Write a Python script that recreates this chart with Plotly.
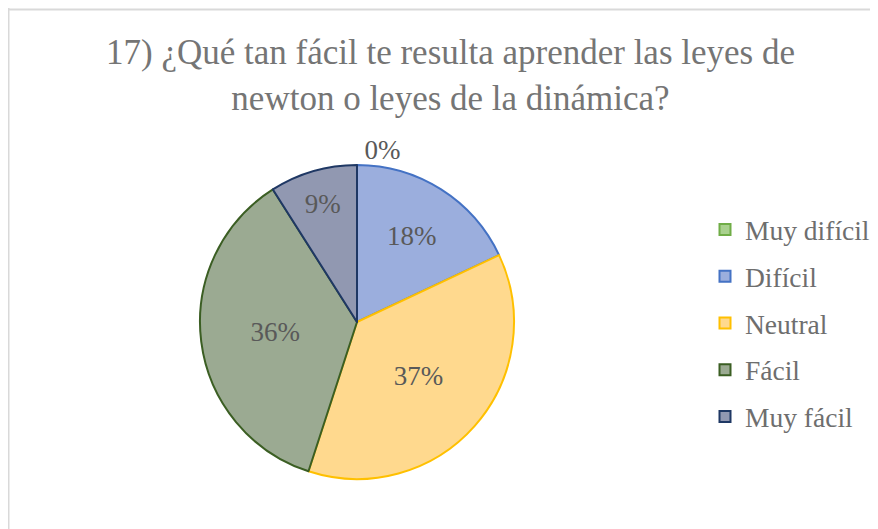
import plotly.graph_objects as go

categorias = ["Muy difícil", "Difícil", "Neutral", "Fácil", "Muy fácil"]
porcentajes = [0, 18, 37, 36, 9]
colores = ["#A9D18E", "#9BAEDD", "#FFD98E", "#9BAA92", "#9198B1"]
bordes = ["#70AD47", "#4472C4", "#FFC000", "#3B5E23", "#1F3864"]
posiciones = ["outside", "inside", "inside", "inside", "inside"]

titulo = "17) ¿Qué tan fácil te resulta aprender las leyes de<br>newton o leyes de la dinámica?"

# la página tiene 8px de margen en el body
W, H = 870, 521
cx, cy, r = 349, 314, 157

fig = go.Figure(
    go.Pie(
        labels=categorias,
        values=porcentajes,
        sort=False,
        direction="clockwise",
        rotation=0,
        marker={"colors": colores, "line": {"color": bordes, "width": 2}},
        texttemplate="%{percent:.0%}",
        textposition=posiciones,
        insidetextorientation="horizontal",
        textfont={"family": "Liberation Serif", "size": 27, "color": "#595959"},
        outsidetextfont={"family": "Liberation Serif", "size": 27, "color": "#595959"},
        hoverinfo="label+percent",
        showlegend=False,
        domain={
            "x": [(cx - r) / W, (cx + r) / W],
            "y": [(H - cy - r) / H, (H - cy + r) / H],
        },
    )
)

# leyenda con una entrada por categoría
for cat, col, borde in zip(categorias, colores, bordes):
    fig.add_trace(
        go.Scatter(
            x=[None],
            y=[None],
            mode="markers",
            name=cat,
            legendgroup=cat,
            marker={"symbol": "square", "size": 11, "color": col,
                    "line": {"color": borde, "width": 2}},
            hoverinfo="skip",
        )
    )

fig.update_layout(
    width=W,
    height=H,
    margin={"l": 0, "r": 0, "t": 0, "b": 0},
    paper_bgcolor="white",
    plot_bgcolor="white",
    font={"family": "Liberation Serif", "color": "#757575"},
    xaxis={"visible": False},
    yaxis={"visible": False},
    title={
        "text": titulo,
        "x": 442.5 / W,
        "xanchor": "center",
        "xref": "container",
        "y": 1 - 56 / H,
        "yanchor": "middle",
        "yref": "container",
        "font": {"size": 35, "color": "#757575", "family": "Liberation Serif"},
    },
    legend={
        "x": 697 / W,
        "xanchor": "left",
        "y": 1 - 315 / H,
        "yanchor": "middle",
        "font": {"size": 27.5, "color": "#6E6E6E", "family": "Liberation Serif"},
        "traceorder": "grouped",
        "tracegroupgap": 8,
        "itemwidth": 30,
    },
    shapes=[
        {"type": "line", "xref": "paper", "yref": "paper",
         "x0": 0, "x1": 1, "y0": 1 - 1.5 / H, "y1": 1 - 1.5 / H,
         "line": {"color": "#D9D9D9", "width": 2}},
        {"type": "line", "xref": "paper", "yref": "paper",
         "x0": 0.5 / W, "x1": 0.5 / W, "y0": 0, "y1": 1,
         "line": {"color": "#D9D9D9", "width": 2}},
    ],
)

fig.write_html("out.html")
